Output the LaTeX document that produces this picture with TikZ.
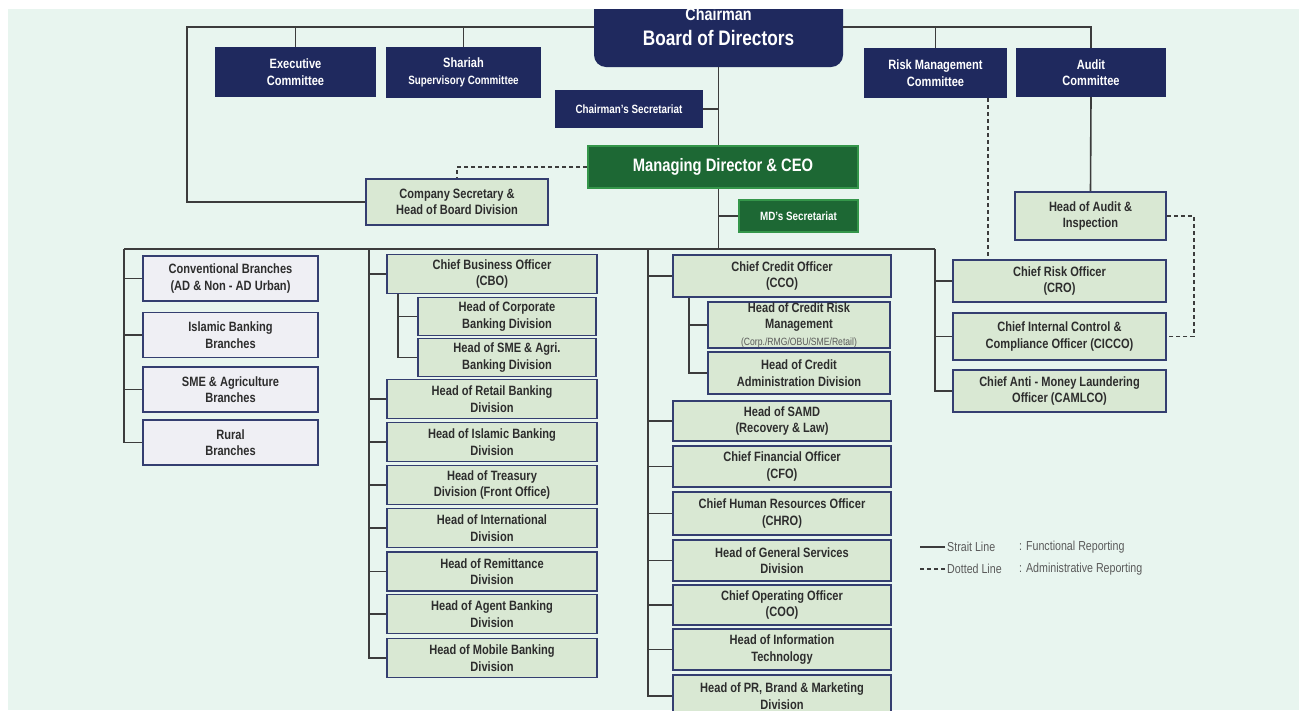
\documentclass[tikz,border=0pt]{standalone}
\usepackage{fontspec}
\setmainfont{Liberation Sans}[FakeStretch=0.82]
\usepackage{xcolor}

\definecolor{navy}{RGB}{31,41,94}
\definecolor{boxedge}{RGB}{52,62,112}
\definecolor{palegreen}{RGB}{217,232,211}
\definecolor{palegrey}{RGB}{239,239,244}
\definecolor{mdgreen}{RGB}{29,104,52}
\definecolor{mdedge}{RGB}{52,150,74}
\definecolor{mint}{RGB}{232,245,239}
\definecolor{wire}{RGB}{60,60,60}
\definecolor{inktext}{RGB}{45,45,45}
\definecolor{legendgrey}{RGB}{90,90,90}

\tikzset{
  boxtext/.style={font=\bfseries\fontsize{13.5}{16.5}\selectfont, align=center, inner sep=0pt},
  navybox/.style={boxtext, fill=navy, text=white},
  palebox/.style={boxtext, draw=boxedge, line width=1.6pt, fill=palegreen, text=inktext},
  greybox/.style={palebox, fill=palegrey},
  greenbox/.style={boxtext, fill=mdgreen, draw=mdedge, line width=2pt, text=white},
  colA/.style={greybox, minimum width=175pt, minimum height=45pt},
  colB/.style={palebox, minimum width=210pt, minimum height=39pt},
  subB/.style={palebox, minimum width=178pt, minimum height=38pt},
  colC/.style={palebox, minimum width=218pt, minimum height=41pt},
  subC/.style={palebox, minimum width=182pt, minimum height=42pt},
  colD/.style={palebox, minimum width=213pt, minimum height=42pt},
  link/.style={draw=wire, line width=1.6pt},
  admin/.style={link, dash pattern=on 4pt off 3pt},
  legendtxt/.style={font=\fontsize{13}{15}\selectfont, text=legendgrey, inner sep=0pt, anchor=west}
}

\begin{document}
\begin{tikzpicture}[x=1pt,y=-1pt]
\useasboundingbox (0,0) rectangle (1299,710);
\fill[white] (0,0) rectangle (1299,710);
\fill[mint] (8,9) rectangle (1299,710);

%Board level
\node[navybox, rounded corners=12pt, minimum width=249pt, minimum height=80pt,
      font=\bfseries\fontsize{21}{25}\selectfont] (bod) at (718.5,27)
  {{\fontsize{17.5}{25}\selectfont Chairman}\\Board of Directors};
\node[navybox, minimum width=161pt, minimum height=50pt] (exec) at (295.5,72) {Executive\\Committee};
\node[navybox, minimum width=155pt, minimum height=51pt] (shariah) at (463.5,72.5)
  {Shariah\\{\fontsize{12}{15}\selectfont Supervisory Committee}};
\node[navybox, minimum width=143pt, minimum height=50pt] (rmc) at (935.5,73) {Risk Management\\Committee};
\node[navybox, minimum width=150pt, minimum height=49pt] (audit) at (1091,72.5) {Audit\\Committee};
\node[navybox, minimum width=148pt, minimum height=38pt, font=\bfseries\fontsize{12}{15}\selectfont] (csec) at (629,109) {Chairman's Secretariat};

%Management
\node[greenbox, minimum width=270pt, minimum height=42pt, font=\bfseries\fontsize{18}{22}\selectfont] (md) at (723,167) {Managing Director \& CEO};
\node[greenbox, minimum width=119pt, minimum height=32pt, font=\bfseries\fontsize{12}{15}\selectfont] (mdsec) at (798.5,216) {MD's Secretariat};
\node[palebox, minimum width=182pt, minimum height=46pt] (cosec) at (457,202) {Company Secretary \&\\Head of Board Division};
\node[palebox, minimum width=151pt, minimum height=48pt] (hai) at (1090.5,216) {Head of Audit \&\\Inspection};

%Branches
\node[colA] (conv) at (230.5,278.5) {Conventional Branches\\(AD \& Non - AD Urban)};
\node[colA] (islbr) at (230.5,335) {Islamic Banking\\Branches};
\node[colA] (smebr) at (230.5,389.5) {SME \& Agriculture\\Branches};
\node[colA] (rural) at (230.5,442.5) {Rural\\Branches};

%Business side
\node[colB] (cbo) at (492,274) {Chief Business Officer\\(CBO)};
\node[subB] (corp) at (507,316.5) {Head of Corporate\\Banking Division};
\node[subB] (smeagri) at (507,357.5) {Head of SME \& Agri.\\Banking Division};
\node[colB] (retail) at (492,399) {Head of Retail Banking\\Division};
\node[colB] (islamic) at (492,442) {Head of Islamic Banking\\Division};
\node[colB] (treasury) at (492,485) {Head of Treasury\\Division (Front Office)};
\node[colB] (intl) at (492,528) {Head of International\\Division};
\node[colB] (remit) at (492,571.5) {Head of Remittance\\Division};
\node[colB] (agent) at (492,614) {Head of Agent Banking\\Division};
\node[colB] (mobile) at (492,658) {Head of Mobile Banking\\Division};

%Credit and support
\node[colC, minimum height=42pt] (cco) at (782,276) {Chief Credit Officer\\(CCO)};
\node[subC, minimum height=46pt] (crm) at (799,325) {Head of Credit Risk\\Management\\{\mdseries\fontsize{10.5}{12}\selectfont\color{legendgrey}(Corp./RMG/OBU/SME/Retail)}};
\node[subC] (cad) at (799,373) {Head of Credit\\Administration Division};
\node[colC, minimum height=40pt] (samd) at (782,421) {Head of SAMD\\(Recovery \& Law)};
\node[colC] (cfo) at (782,466.5) {Chief Financial Officer\\(CFO)};
\node[colC, minimum height=43pt] (chro) at (782,513.5) {Chief Human Resources Officer\\(CHRO)};
\node[colC] (gsd) at (782,560.5) {Head of General Services\\Division};
\node[colC, minimum height=40pt] (coo) at (782,605) {Chief Operating Officer\\(COO)};
\node[colC] (itd) at (782,649.5) {Head of Information\\Technology};
\node[colC, minimum height=42pt] (prd) at (782,696) {Head of PR, Brand \& Marketing\\Division};

%Risk and compliance
\node[colD] (cro) at (1059.5,281) {Chief Risk Officer\\(CRO)};
\node[colD, minimum height=47pt] (cicco) at (1059.5,336.5) {Chief Internal Control \&\\Compliance Officer (CICCO)};
\node[colD] (camlco) at (1059.5,391) {Chief Anti - Money Laundering\\Officer (CAMLCO)};

%Board lines
\coordinate (topL) at (187,27);
\draw[link] (bod.west) -- (topL) |- (cosec.west);
\draw[link] (exec.north) -- (exec.north |- topL);
\draw[link] (shariah.north) -- (shariah.north |- topL);
\draw[link] (bod.east) -| (audit.north);
\draw[link] (rmc.north) -- (rmc.north |- bod.east);
\draw[link] (audit.south) -- (hai.north);
\draw[link] (bod.south) -- (bod.south |- md.north);
\draw[link] (csec.east) -- (csec.east -| bod.south);

%Bus
\coordinate (busL) at (124,249);
\coordinate (busR) at (935,249);
\coordinate (colB) at (369,249);
\coordinate (colC) at (648,249);
\draw[link] (bod.south |- md.south) -- (bod.south |- busL);
\draw[link] (mdsec.west) -- (mdsec.west -| bod.south);
\draw[link] (busL) -- (busR);

%Column A
\draw[link] (busL) |- (rural.west);
\draw[link] (conv.west) -- (conv.west -| busL);
\draw[link] (islbr.west) -- (islbr.west -| busL);
\draw[link] (smebr.west) -- (smebr.west -| busL);

%Column B
\draw[link] (colB) |- (mobile.west);
\draw[link] (cbo.west) -- (cbo.west -| colB);
\draw[link] (retail.west) -- (retail.west -| colB);
\draw[link] (islamic.west) -- (islamic.west -| colB);
\draw[link] (treasury.west) -- (treasury.west -| colB);
\draw[link] (intl.west) -- (intl.west -| colB);
\draw[link] (remit.west) -- (remit.west -| colB);
\draw[link] (agent.west) -- (agent.west -| colB);
\coordinate (cbosub) at ([xshift=12pt]cbo.south west);
\draw[link] (cbosub) |- (smeagri.west);
\draw[link] (corp.west) -- (corp.west -| cbosub);

%Column C
\draw[link] (colC) |- (prd.west);
\draw[link] (cco.west) -- (cco.west -| colC);
\draw[link] (samd.west) -- (samd.west -| colC);
\draw[link] (cfo.west) -- (cfo.west -| colC);
\draw[link] (chro.west) -- (chro.west -| colC);
\draw[link] (gsd.west) -- (gsd.west -| colC);
\draw[link] (coo.west) -- (coo.west -| colC);
\draw[link] (itd.west) -- (itd.west -| colC);
\coordinate (ccosub) at ([xshift=17pt]cco.south west);
\draw[link] (ccosub) |- (cad.west);
\draw[link] (crm.west) -- (crm.west -| ccosub);

%Column D
\draw[link] (busR) |- (camlco.west);
\draw[link] (cro.west) -- (cro.west -| busR);
\draw[link] (cicco.west) -- (cicco.west -| busR);

%Administrative reporting
\draw[admin] (md.west) -| (cosec.north);
\draw[admin] ([xshift=52.5pt]rmc.south) -- ([xshift=52.5pt]rmc.south |- cro.north);
\draw[admin] (hai.east) -- ++(27,0) |- (cicco.east);

%Legend
\node[legendtxt] (strait) at (947,547) {Strait Line};
\node[legendtxt] (functional) at (1019,547) {: Functional Reporting};
\node[legendtxt] (dotted) at (947,569) {Dotted Line};
\node[legendtxt] (administrative) at (1019,569) {: Administrative Reporting};
\draw[link, line width=1.3pt] ([xshift=-2pt]strait.west) -- ++(-25,0);
\draw[admin, line width=1.3pt] ([xshift=-2pt]dotted.west) -- ++(-25,0);

\fill[white] (0,0) rectangle (1299,9);
\fill[white] (0,0) rectangle (8,710);
\end{tikzpicture}
\end{document}
